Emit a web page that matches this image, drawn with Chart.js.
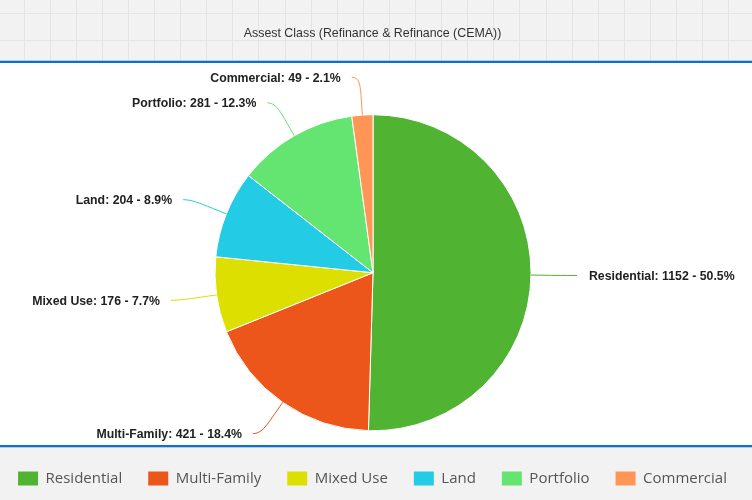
<!DOCTYPE html>
<html>
<head>
<meta charset="utf-8">
<script src="https://cdn.jsdelivr.net/npm/chart.js@4/dist/chart.umd.min.js"></script>
<style>
  html, body { margin: 0; padding: 0; background: #ffffff; }
  #c { display: block; }
</style>
</head>
<body>
<canvas id="c" width="752" height="500"></canvas>
<script>
// ---- data ----
const titleText = 'Assest Class (Refinance & Refinance (CEMA))';
const categories = ['Residential', 'Multi-Family', 'Mixed Use', 'Land', 'Portfolio', 'Commercial'];
const counts = [1152, 421, 176, 204, 281, 49];
const palette = ['#50B432', '#ED561B', '#DDDF00', '#24CBE5', '#64E572', '#FF9655'];

const total = counts.reduce((a, b) => a + b, 0);

// ---- background / frame plugin ----
const framePlugin = {
  id: 'frame',
  afterLayout(chart) {
    // plot area in the reference sits a little left of the canvas centre
    chart.chartArea.right -= 6;
    chart.chartArea.width = chart.chartArea.right - chart.chartArea.left;
  },
  beforeDraw(chart) {
    const ctx = chart.ctx;
    const W = chart.width, H = chart.height;
    ctx.save();
    ctx.fillStyle = '#ffffff';
    ctx.fillRect(0, 0, W, H);
    // header
    ctx.fillStyle = '#f2f2f2';
    ctx.fillRect(0, 0, W, 60);
    ctx.strokeStyle = '#e4e4e4';
    ctx.lineWidth = 1;
    ctx.beginPath();
    for (let x = 23.5; x < W; x += 26.1) {
      const xx = Math.round(x) + 0.5;
      ctx.moveTo(xx, 0); ctx.lineTo(xx, 60);
    }
    [13.5, 40.5].forEach(y => { ctx.moveTo(0, y); ctx.lineTo(W, y); });
    ctx.stroke();
    ctx.fillStyle = '#a9cdf0';
    ctx.fillRect(0, 60, W, 1);
    ctx.fillStyle = '#0f70c8';
    ctx.fillRect(0, 61, W, 2);
    // footer
    ctx.fillStyle = '#0f70c8';
    ctx.fillRect(0, 445, W, 2);
    ctx.fillStyle = '#a9cdf0';
    ctx.fillRect(0, 447, W, 1);
    ctx.fillStyle = '#f2f2f2';
    ctx.fillRect(0, 448, W, H - 448);
    ctx.restore();
  }
};

// ---- outside labels with soft connectors ----
const labelPlugin = {
  id: 'pieLabels',
  afterDatasetsDraw(chart) {
    const ctx = chart.ctx;
    const meta = chart.getDatasetMeta(0);
    ctx.save();
    ctx.font = 'bold 12.3px "Liberation Sans", Arial, sans-serif';
    ctx.textBaseline = 'middle';
    meta.data.forEach((arc, i) => {
      const p = arc.getProps(['x', 'y', 'startAngle', 'endAngle', 'outerRadius'], true);
      const mid = (p.startAngle + p.endAngle) / 2;
      const c = Math.cos(mid), s = Math.sin(mid);
      const r = p.outerRadius;
      const ax = p.x + c * (r + 38), ay = p.y + s * (r + 38);
      const bx = p.x + c * (r + 15), by = p.y + s * (r + 15);
      const ex = p.x + c * r, ey = p.y + s * r;
      const right = c >= 0;
      ctx.strokeStyle = palette[i];
      ctx.lineWidth = 1;
      ctx.beginPath();
      ctx.moveTo(ax + (right ? 8 : -8), ay);
      ctx.bezierCurveTo(ax, ay, 2 * bx - ex, 2 * by - ey, bx, by);
      ctx.lineTo(ex, ey);
      ctx.stroke();
      const pct = (counts[i] / total * 100).toFixed(1);
      const txt = categories[i] + ': ' + counts[i] + ' - ' + pct + '%';
      ctx.fillStyle = '#222222';
      ctx.textAlign = right ? 'left' : 'right';
      ctx.fillText(txt, ax + (right ? 20 : -19), ay + 1);
    });
    ctx.restore();
  }
};

new Chart(document.getElementById('c'), {
  type: 'pie',
  data: {
    labels: categories,
    datasets: [{
      data: counts,
      backgroundColor: palette,
      borderColor: '#ffffff',
      borderWidth: 1,
      hoverOffset: 0,
      radius: 158
    }]
  },
  options: {
    responsive: false,
    animation: false,
    events: [],
    layout: { padding: { top: 0, left: -20, right: -13, bottom: 4 } },
    plugins: {
      tooltip: { enabled: false },
      title: {
        display: true,
        text: titleText,
        color: '#333333',
        font: { family: '"Liberation Sans", Arial, sans-serif', size: 12.4, weight: 'normal' },
        padding: { top: 26, bottom: 59.6 }
      },
      legend: {
        position: 'bottom',
        labels: {
          boxWidth: 20,
          boxHeight: 14,
          padding: 26,
          color: '#555555',
          font: { family: '"Open Sans", "Noto Sans", sans-serif', size: 15 },
          generateLabels(chart) {
            const items = Chart.overrides.pie.plugins.legend.labels.generateLabels(chart);
            items.forEach(it => { it.lineWidth = 0; it.strokeStyle = it.fillStyle; });
            return items;
          }
        }
      }
    }
  },
  plugins: [framePlugin, labelPlugin]
});
</script>
</body>
</html>
